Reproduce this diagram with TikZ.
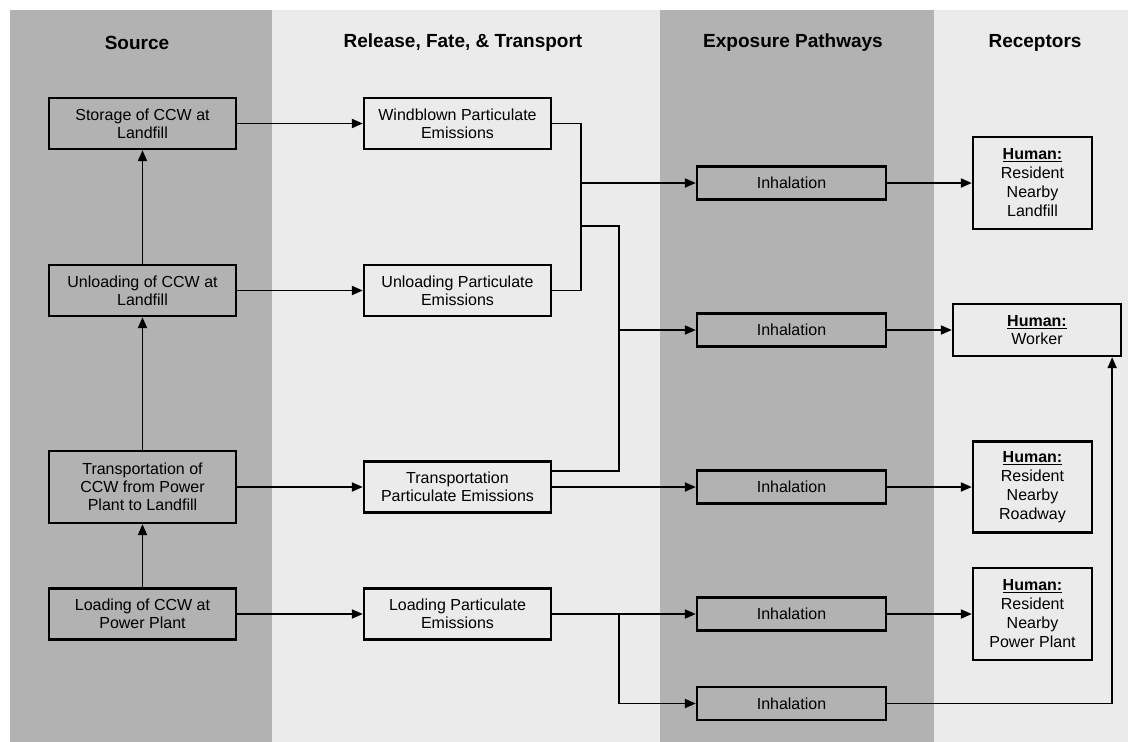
\documentclass[tikz,border=0pt]{standalone}
\usepackage{fontspec}
\setmainfont{Liberation Sans}
\usetikzlibrary{arrows.meta,calc}
\begin{document}
\begin{tikzpicture}[x=1pt,y=-1pt,
  box/.style={draw=black, line width=2.3pt, align=center, inner sep=2pt,
              font=\fontsize{16}{18}\selectfont},
  sbox/.style={box, minimum width=187pt, minimum height=51pt},
  ibox/.style={box, minimum width=189pt, minimum height=33pt},
  rbox/.style={box, minimum width=119pt, minimum height=92pt, font=\fontsize{16}{19}\selectfont},
  hdr/.style={font=\bfseries\fontsize{19}{22}\selectfont},
  ln/.style={line width=1.9pt},
  arr/.style={ln, -{Triangle[length=11pt,width=9pt]}}]
\useasboundingbox (0,0) rectangle (1128,742);
% column backgrounds
\fill[black!8] (272,10) rectangle (1128,742);
\fill[black!30] (10,10) rectangle (272,742);
\fill[black!30] (660,10) rectangle (934,742);
% headers
\node[hdr] (hS) at (137,43) {Source};
\node[hdr] (hR) at (463,43) {Release, Fate, \& Transport};
\node[hdr] (hE) at (793,43) {Exposure Pathways};
\node[hdr] (hC) at (1035,43) {Receptors};
% source
\node[sbox] (storage) at (142.5,123.5) {Storage of CCW at\\Landfill};
\node[sbox] (unloadS) at (142.5,290.5) {Unloading of CCW at\\Landfill};
\node[sbox, minimum height=72pt] (transS) at (142.5,487) {Transportation of\\CCW from Power\\Plant to Landfill};
\node[sbox] (loadS) at (142.5,614) {Loading of CCW at\\Power Plant};
% release
\node[sbox] (wind) at (457.5,123.5) {Windblown Particulate\\Emissions};
\node[sbox] (unloadP) at (457.5,290.5) {Unloading Particulate\\Emissions};
\node[sbox] (transP) at (457.5,487) {Transportation\\Particulate Emissions};
\node[sbox] (loadP) at (457.5,614) {Loading Particulate\\Emissions};
% exposure
\node[ibox] (inh1) at (791.5,183) {Inhalation};
\node[ibox] (inh2) at (791.5,330) {Inhalation};
\node[ibox] (inh3) at (791.5,487) {Inhalation};
\node[ibox] (inh4) at (791.5,614) {Inhalation};
\node[ibox] (inh5) at (791.5,703.5) {Inhalation};
% receptors
\node[rbox] (landfill) at (1032.5,183) {\underline{\textbf{Human:}}\\Resident\\Nearby\\Landfill};
\node[box, minimum width=168pt, minimum height=52pt] (worker) at (1037,330) {\underline{\textbf{Human:}}\\Worker};
\node[rbox, minimum height=91pt] (roadway) at (1032.5,487) {\underline{\textbf{Human:}}\\Resident\\Nearby\\Roadway};
\node[rbox] (power) at (1032.5,614) {\underline{\textbf{Human:}}\\Resident\\Nearby\\Power Plant};
% junction coordinates
\coordinate (j1) at (581,183);
\coordinate (j2) at (581,226);
\coordinate (j3) at (619,330);
\coordinate (j4) at (619,614);
% source column
\draw[arr] (unloadS) -- (storage);
\draw[arr] (transS) -- (unloadS);
\draw[arr] (loadS) -- (transS);
% source -> release
\draw[arr] (storage) -- (wind);
\draw[arr] (unloadS) -- (unloadP);
\draw[arr] (transS) -- (transP);
\draw[arr] (loadS) -- (loadP);
% release -> exposure
\draw[ln] (wind.east) -| (j1) |- (unloadP.east);
\draw[arr] (j1) -- (inh1);
\draw[ln] (j2) -| (j3) |- ([yshift=16pt]transP.east);
\draw[arr] (j3) -- (inh2);
\draw[arr] (transP) -- (inh3);
\draw[arr] (loadP) -- (inh4);
\draw[arr] (j4) |- (inh5.west);
% exposure -> receptors
\draw[arr] (inh1) -- (landfill);
\draw[arr] (inh2) -- (worker);
\draw[arr] (inh3) -- (roadway);
\draw[arr] (inh4) -- (power);
\draw[arr] (inh5.east) -| ([xshift=-10pt]worker.south east);
\end{tikzpicture}
\end{document}
